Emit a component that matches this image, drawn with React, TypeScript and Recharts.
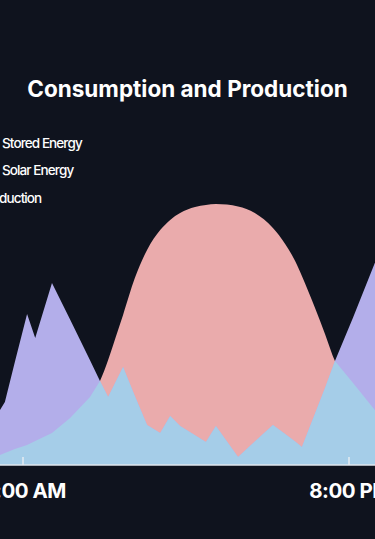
import React from 'react';
import { AreaChart, Area, XAxis, YAxis } from 'recharts';

// time of day in minutes since midnight
const times = [300, 363, 429, 440, 462, 489, 507, 544, 584, 628, 650, 668, 690, 701, 727, 754, 783, 805, 827, 860, 884, 906, 955, 992, 1032, 1059, 1081, 1096, 1125, 1147, 1169, 1209, 1257, 1313, 1380];
// kW
const consumption = [0.83, 1.4, 1.83, 2.1, 3.43, 5.03, 4.23, 6.07, 4.85, 3.49, 2.8, 2.27, 2.93, 3.27, 2.3, 1.33, 1.07, 1.63, 1.3, 0.99, 0.77, 1.3, 0.27, 0.78, 1.33, 1.03, 0.78, 0.6, 1.72, 2.57, 3.47, 4.92, 6.73, 8.5, 9.5];
const production = [0.07, 0.17, 0.33, 0.4, 0.53, 0.67, 0.8, 1.07, 1.57, 2.27, 2.8, 3.5, 4.5, 5.0, 6.23, 7.17, 7.83, 8.17, 8.4, 8.6, 8.67, 8.7, 8.62, 8.4, 7.9, 7.37, 6.8, 6.3, 5.23, 4.37, 3.47, 2.73, 1.83, 1.1, 0.5];

const tickTimes = [480, 1200];
const tickLabels = ['8:00 AM', '8:00 PM'];
const legendLabels = ['Stored Energy', 'Solar Energy', 'Production'];

const BG = '#0f131e';
const PURPLE = '#b3aeea';
const PINK = '#eaabac';
const BLUE = '#a5cde8';
const legendColors = [PURPLE, BLUE, PINK];
const FONT = 'Inter, "Noto Sans", sans-serif';

const data = times.map((t, i) => ({
  t,
  consumption: consumption[i],
  production: production[i],
  solar: Math.min(consumption[i], production[i]),
}));

const AxisTick = (props: any) => {
  const { x, y, payload } = props;
  const idx = tickTimes.indexOf(payload.value);
  return (
    <g>
      <line x1={x} x2={x} y1={y - 8} y2={y} stroke="#e6ebf2" strokeWidth={1.5} />
      <text
        x={x + 1}
        y={y + 33}
        textAnchor="middle"
        fill="#ffffff"
        fontFamily={FONT}
        fontWeight={700}
        fontSize={20.5}
        letterSpacing={-0.5}
      >
        {idx >= 0 ? tickLabels[idx] : ''}
      </text>
    </g>
  );
};

export default function App() {
  return (
    <div
      style={{
        position: 'absolute',
        left: 0,
        top: 0,
        width: 375,
        height: 539,
        overflow: 'hidden',
        background: BG,
        fontFamily: FONT,
      }}
    >
      <div
        style={{
          position: 'absolute',
          left: 0,
          top: 78,
          width: 375,
          textAlign: 'center',
          color: '#ffffff',
          fontSize: 22.5,
          fontWeight: 700,
          lineHeight: '22px',
          letterSpacing: 0,
          whiteSpace: 'nowrap',
        }}
      >
        Consumption and Production
      </div>
      {legendLabels.map((label, i) => (
        <div
          key={label}
          style={{
            position: 'absolute',
            left: i === 2 ? -36 : -14,
            top: 134 + i * 27.3,
            height: 18,
            display: 'flex',
            alignItems: 'center',
            whiteSpace: 'nowrap',
            color: '#ffffff',
            fontSize: 13.5,
            fontWeight: 500,
            letterSpacing: -0.9,
          }}
        >
          <span
            style={{
              display: 'inline-block',
              width: 10,
              height: 10,
              borderRadius: 5,
              background: legendColors[i],
              marginRight: 6,
            }}
          />
          <span>{label}</span>
        </div>
      ))}
      <div style={{ position: 'absolute', left: -60, top: 0 }}>
        <AreaChart
          width={491}
          height={539}
          data={data}
          margin={{ top: 165, right: 0.5, bottom: 34, left: 1.5 }}
        >
          <XAxis
            dataKey="t"
            type="number"
            domain={[300, 1380]}
            ticks={tickTimes}
            tick={<AxisTick />}
            tickSize={0}
            tickMargin={0}
            height={40}
            axisLine={{ stroke: '#dfe6ee', strokeWidth: 1.5 }}
            tickLine={false}
            interval={0}
          />
          <YAxis hide domain={[0, 10]} />
          <Area
            type="monotone"
            dataKey="production"
            stroke="none"
            fill={PINK}
            fillOpacity={1}
            isAnimationActive={false}
          />
          <Area
            type="linear"
            dataKey="consumption"
            stroke="none"
            fill={PURPLE}
            fillOpacity={1}
            isAnimationActive={false}
          />
          <Area
            type="linear"
            dataKey="solar"
            stroke="none"
            fill={BLUE}
            fillOpacity={1}
            isAnimationActive={false}
          />
        </AreaChart>
      </div>
    </div>
  );
}
